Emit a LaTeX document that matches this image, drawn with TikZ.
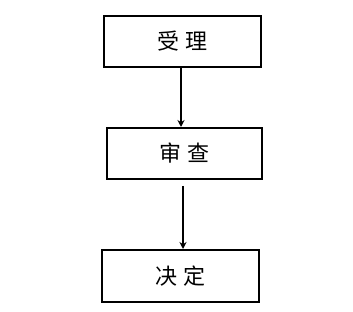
\documentclass[tikz,border=0pt]{standalone}
\usepackage{fontspec}
\usetikzlibrary{arrows.meta}
\newfontfamily\cjk{Noto Sans CJK SC}
\begin{document}
\begin{tikzpicture}[x=1pt,y=1pt,>={Stealth[length=7pt,width=7pt]}]
\useasboundingbox (0,0) rectangle (353,312);
\tikzset{stage/.style={draw, line width=2pt, minimum height=51pt, inner sep=0pt, font=\cjk\fontsize{22}{26}\selectfont}}
\node[stage, minimum width=157pt] (accept) at (182.5,270.5) {受\hspace{0.3em}理};
\node[stage, minimum width=155pt] (review) at (184.5,158.5) {审\hspace{0.3em}查};
\node[stage, minimum width=157pt, minimum height=52pt] (decide) at (180.5,36) {决\hspace{0.3em}定};
\draw[->, line width=1.5pt] ([xshift=-1.5pt]accept.south) -- ([xshift=-1.5pt]accept.south |- review.north);
\draw[->, line width=1.5pt] ([xshift=-1.5pt,yshift=-6pt]review.south) -- ([xshift=-1.5pt]review.south |- decide.north);
\end{tikzpicture}
\end{document}
